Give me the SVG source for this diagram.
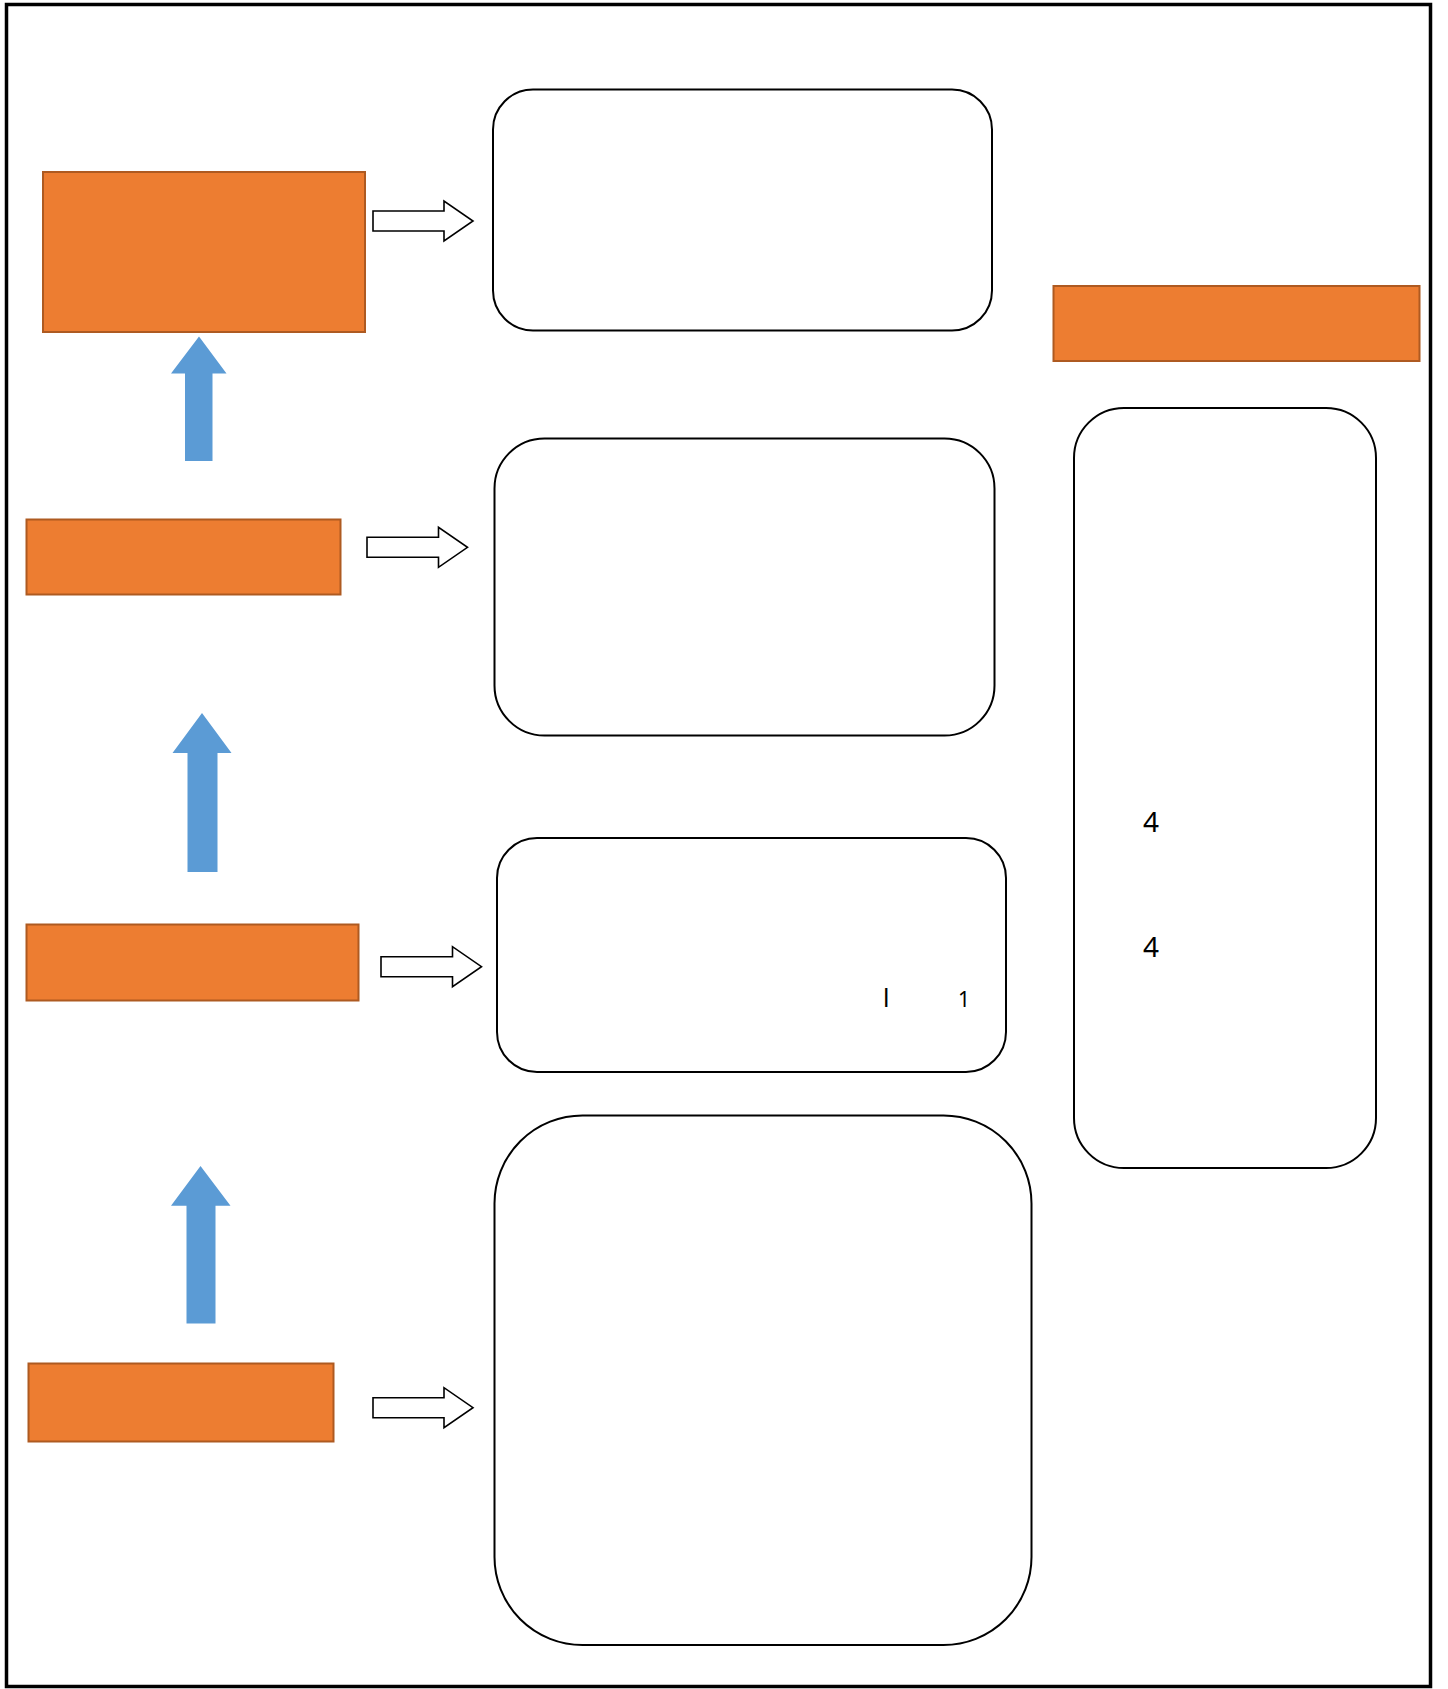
<svg xmlns="http://www.w3.org/2000/svg" width="1448" height="1689" viewBox="0 0 1448 1689">
<style>
.frame{fill:#fff;stroke:#000;stroke-width:3.5}
.step{fill:#ED7D31;stroke:#AE5A21;stroke-width:2}
.box{fill:#fff;stroke:#000;stroke-width:2}
.up{fill:#5B9BD5;stroke:none}
.right{fill:#fff;stroke:#000;stroke-width:1.6;stroke-linejoin:miter}
.t{font-family:"Noto Sans","Open Sans","DejaVu Sans",sans-serif;fill:#000}
</style>
<rect class="frame" x="6.5" y="4.5" width="1424" height="1682"/>

<g id="step1"><rect class="step" x="43" y="172" width="322" height="160"/></g>
<g id="step2"><rect class="step" x="26.5" y="519.5" width="314" height="75"/></g>
<g id="step3"><rect class="step" x="26.5" y="924.5" width="332" height="76"/></g>
<g id="step4"><rect class="step" x="28.5" y="1363.5" width="305" height="78"/></g>
<g id="title-right"><rect class="step" x="1053.5" y="286" width="366" height="75"/></g>

<g id="box1"><rect class="box" x="493" y="89.5" width="499" height="241" rx="40" ry="40"/></g>
<g id="box2"><rect class="box" x="494.5" y="438.5" width="500" height="297" rx="50" ry="50"/></g>
<g id="box3"><rect class="box" x="497" y="838" width="509" height="234" rx="40" ry="40"/></g>
<g id="box4"><rect class="box" x="494.5" y="1115.5" width="537" height="529.5" rx="88" ry="88"/></g>
<g id="box-right"><rect class="box" x="1074" y="408" width="302" height="760" rx="50" ry="50"/>
<text class="t" x="1143" y="831.5" font-size="28">4</text>
<text class="t" x="1143" y="956.5" font-size="28">4</text>
</g>
<g id="box3-text">
<text class="t" x="883" y="1007" font-size="25">l</text>
<text class="t" x="958" y="1007" font-size="21">1</text>
</g>

<g id="connectors">
<path class="up" d="M199,336.5 L226.5,373.5 L212.5,373.5 L212.5,461 L185,461 L185,373.5 L171,373.5 Z"/>
<path class="up" d="M202,713 L231.5,753 L217.5,753 L217.5,872 L187.5,872 L187.5,753 L172.5,753 Z"/>
<path class="up" d="M200.5,1166 L230.5,1205.7 L215.5,1205.7 L215.5,1323.5 L186.5,1323.5 L186.5,1205.7 L171,1205.7 Z"/>
<path class="right" d="M373,211 H444 V201 L473,221 L444,241 V231 H373 Z"/>
<path class="right" d="M367,537.3 H438.5 V527.3 L467.5,547.3 L438.5,567.3 V557.3 H367 Z"/>
<path class="right" d="M381,956.7 H452.5 V946.7 L481.5,966.7 L452.5,986.7 V976.7 H381 Z"/>
<path class="right" d="M373,1397.7 H444 V1387.7 L473,1407.7 L444,1427.7 V1417.7 H373 Z"/>
</g>
</svg>
